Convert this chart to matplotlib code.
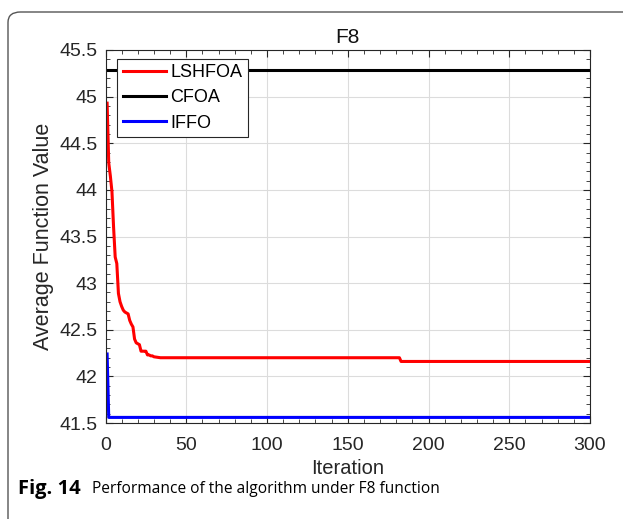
import numpy as np
import matplotlib
import matplotlib.pyplot as plt
from matplotlib.patches import FancyBboxPatch
from matplotlib.ticker import MultipleLocator, FormatStrFormatter

matplotlib.use('agg')
plt.rcParams['font.family'] = ['Liberation Sans', 'DejaVu Sans']

# LSHFOA convergence (iteration, value)
lshfoa_iter = [1, 2, 3, 4, 5, 6, 7, 8, 9, 10, 11, 12, 13, 14, 15, 16, 17, 18,
               19, 20, 21, 22, 23, 24, 25, 26, 27, 28, 29, 30, 34, 182, 183, 300]
lshfoa_val = [44.93, 44.29, 44.15, 43.98, 43.60, 43.28, 43.21, 42.89, 42.80,
              42.75, 42.71, 42.69, 42.68, 42.67, 42.60, 42.56, 42.53, 42.40,
              42.36, 42.35, 42.34, 42.27, 42.27, 42.27, 42.27, 42.23, 42.23,
              42.22, 42.22, 42.21, 42.20, 42.20, 42.16, 42.16]

cfoa_iter = [1, 300]
cfoa_val = [45.29, 45.29]

iffo_iter = [1, 2, 300]
iffo_val = [42.24, 41.56, 41.56]

fig = plt.figure(figsize=(6.23, 5.19), dpi=100)

# rounded frame of the figure panel
frame = FancyBboxPatch((8 / 623, -0.02), 1.2, 1 - 12 / 519 + 0.02,
                       boxstyle='round,pad=0,rounding_size=0.02',
                       transform=fig.transFigure, fc='none', ec='#555555',
                       lw=1.0, clip_on=False)
fig.patches.append(frame)

ax = fig.add_axes([105.5 / 623, 1 - 423 / 519, 484.5 / 623, 373 / 519])
ax.plot(lshfoa_iter, lshfoa_val, color='#ff0000', lw=2.2, label='LSHFOA')
ax.plot(cfoa_iter, cfoa_val, color='#000000', lw=2.2, label='CFOA')
ax.plot(iffo_iter, iffo_val, color='#0000ff', lw=2.2, label='IFFO')

ax.set_xlim(0, 300)
ax.set_ylim(41.5, 45.5)
ax.xaxis.set_major_locator(MultipleLocator(50))
ax.xaxis.set_minor_locator(MultipleLocator(10))
ax.yaxis.set_major_locator(MultipleLocator(0.5))
ax.yaxis.set_minor_locator(MultipleLocator(0.1))
ax.yaxis.set_major_formatter(FormatStrFormatter('%g'))
ax.tick_params(which='both', direction='in', top=True, right=True,
               colors='#262626', labelcolor='#262626')
ax.tick_params(which='major', length=5, labelsize=14)
ax.tick_params(axis='x', which='major', pad=10)
ax.tick_params(axis='y', which='major', pad=5.5)
ax.tick_params(which='minor', length=3)
ax.grid(True, which='major', color='#dcdcdc', lw=0.8)
for s in ax.spines.values():
    s.set_color('#262626')
    s.set_linewidth(0.8)

ax.set_title('F8', fontsize=15, color='#111111', pad=5)
ax.set_xlabel('Iteration', fontsize=14.5, color='#262626', labelpad=4)
ax.set_ylabel('Average Function Value', fontsize=15.5, color='#262626', labelpad=4)

leg = ax.legend(loc='upper left', bbox_to_anchor=(0.024, 0.976), fontsize=13,
                handlelength=2.4, handletextpad=0.25, borderpad=0.3,
                labelspacing=0.45, fancybox=False, framealpha=1,
                edgecolor='#262626', borderaxespad=0)
leg.get_frame().set_linewidth(0.8)

cap_fonts = ['Open Sans', 'DejaVu Sans']
fig.text(18 / 623, 1 - 489 / 519, 'Fig. 14', fontsize=14.5, fontweight='bold',
         family=cap_fonts, va='center', ha='left')
fig.text(92 / 623, 1 - 489 / 519, 'Performance of the algorithm under F8 function',
         fontsize=11.2, family=cap_fonts, va='center', ha='left')

fig.savefig('out.png', dpi=100)
